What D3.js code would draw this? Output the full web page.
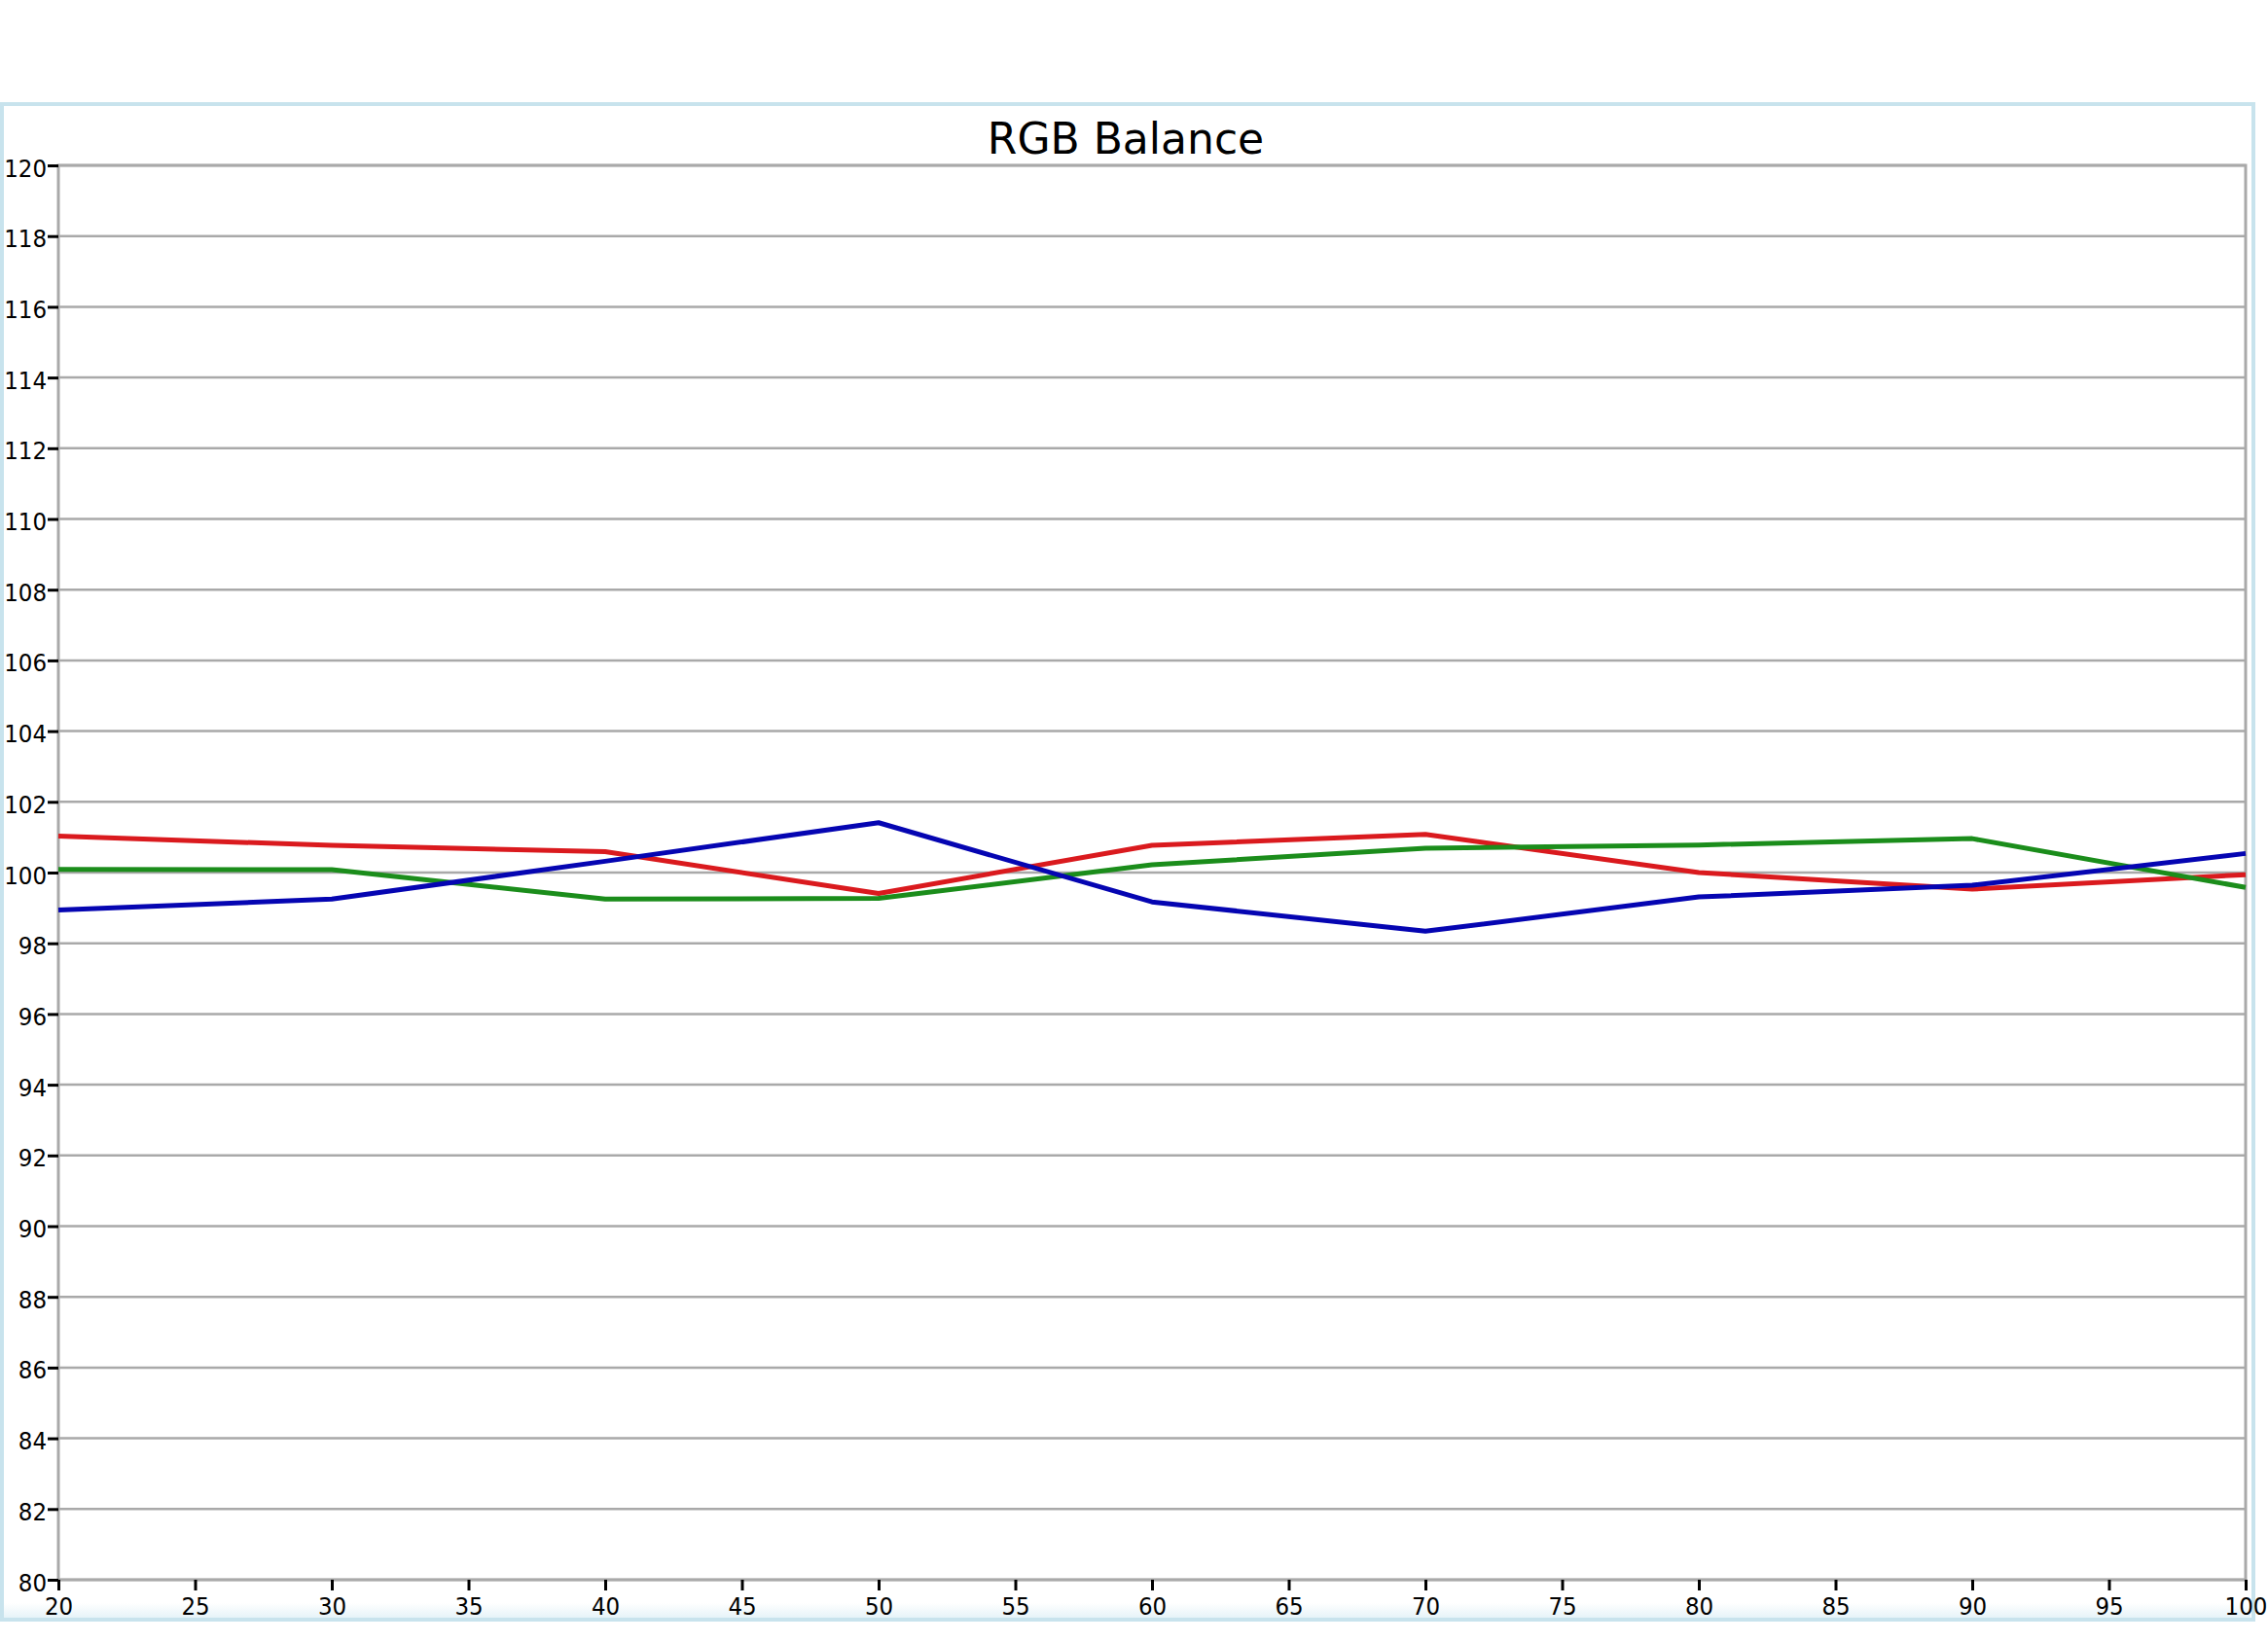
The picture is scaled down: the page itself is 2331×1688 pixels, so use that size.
<!DOCTYPE html>
<html>
<head>
<meta charset="utf-8">
<script src="https://cdn.jsdelivr.net/npm/d3@7"></script>
<style>
  html, body { margin: 0; padding: 0; background: #ffffff; }
  svg { display: block; }
</style>
</head>
<body>
<script>
// ---- Data ----
const xValues = [20, 30, 40, 50, 60, 70, 80, 90, 100];
const redValues   = [101.03, 100.77, 100.59, 99.41, 100.77, 101.08, 100.00, 99.53, 99.94];
const greenValues = [100.09, 100.08, 99.25, 99.27, 100.22, 100.69, 100.78, 100.96, 99.58];
const blueValues  = [98.94, 99.25, 100.32, 101.41, 99.17, 98.34, 99.31, 99.64, 100.54];
const yTickValues = [80, 82, 84, 86, 88, 90, 92, 94, 96, 98, 100, 102, 104, 106, 108, 110, 112, 114, 116, 118, 120];
const xTickValues = [20, 25, 30, 35, 40, 45, 50, 55, 60, 65, 70, 75, 80, 85, 90, 95, 100];
const chartTitle = "RGB Balance";

const series = [
  { name: "Red",   values: redValues,   color: "#da1a1e" },
  { name: "Green", values: greenValues, color: "#1b8d1b" },
  { name: "Blue",  values: blueValues,  color: "#0505b2" }
];

// ---- Layout ----
const W = 2331, H = 1688;
const plot = { left: 60, right: 2308, top: 170, bottom: 1624 };

const svg = d3.select("body").append("svg")
  .attr("width", W).attr("height", H)
  .attr("viewBox", `0 0 ${W} ${H}`);

// outer frame
const defs = svg.append("defs");
const grad = defs.append("linearGradient").attr("id", "btm").attr("x1", 0).attr("y1", 0).attr("x2", 0).attr("y2", 1);
grad.append("stop").attr("offset", "0%").attr("stop-color", "#ffffff");
grad.append("stop").attr("offset", "100%").attr("stop-color", "#e6f3f8");
svg.append("rect").attr("x", 4).attr("y", 1648).attr("width", 2309).attr("height", 15).attr("fill", "url(#btm)");
svg.append("rect")
  .attr("x", 2).attr("y", 107).attr("width", 2314).attr("height", 1558)
  .attr("fill", "none").attr("stroke", "#c8e3ed").attr("stroke-width", 4);

const x = d3.scaleLinear().domain([20, 100]).range([plot.left, plot.right]);
const y = d3.scaleLinear().domain([80, 120]).range([plot.bottom, plot.top]);

// gridlines
svg.append("g").selectAll("line").data(yTickValues).join("line")
  .attr("x1", plot.left).attr("x2", plot.right)
  .attr("y1", d => y(d)).attr("y2", d => y(d))
  .attr("stroke", "#a9a9a9").attr("stroke-width", 2.5);

// plot border
svg.append("rect")
  .attr("x", plot.left).attr("y", plot.top)
  .attr("width", plot.right - plot.left).attr("height", plot.bottom - plot.top)
  .attr("fill", "none").attr("stroke", "#a9a9a9").attr("stroke-width", 3);

// title
svg.append("text")
  .attr("x", 1157).attr("y", 158)
  .attr("text-anchor", "middle")
  .attr("font-family", "'DejaVu Sans', Verdana, sans-serif")
  .attr("font-size", 44)
  .attr("fill", "#000")
  .text(chartTitle);

const labelFont = "'DejaVu Sans Condensed', 'DejaVu Sans', sans-serif";

// y axis
const yAxis = d3.axisLeft(y).tickValues(yTickValues).tickSize(11).tickPadding(1).tickFormat(d3.format("d"));
const gy = svg.append("g").attr("transform", `translate(${plot.left},0)`).call(yAxis);
gy.select(".domain").remove();
gy.selectAll(".tick line").attr("stroke", "#000").attr("stroke-width", 3);
gy.selectAll(".tick text")
  .attr("font-family", labelFont).attr("font-size", 25.5).attr("fill", "#000")
  .attr("dy", null).attr("y", 11);

// x axis
const xAxis = d3.axisBottom(x).tickValues(xTickValues).tickSize(11).tickPadding(2).tickFormat(d3.format("d"));
const gx = svg.append("g").attr("transform", `translate(0,${plot.bottom})`).call(xAxis);
gx.select(".domain").remove();
gx.selectAll(".tick line").attr("stroke", "#000").attr("stroke-width", 3);
gx.selectAll(".tick text")
  .attr("font-family", labelFont).attr("font-size", 25.5).attr("fill", "#000")
  .attr("dy", null).attr("y", 36);

// lines
const line = d3.line().x((d, i) => x(xValues[i])).y(d => y(d));
svg.append("g").selectAll("path").data(series).join("path")
  .attr("d", s => line(s.values))
  .attr("fill", "none")
  .attr("stroke", s => s.color)
  .attr("stroke-width", 5)
  .attr("stroke-linejoin", "round");
</script>
</body>
</html>
